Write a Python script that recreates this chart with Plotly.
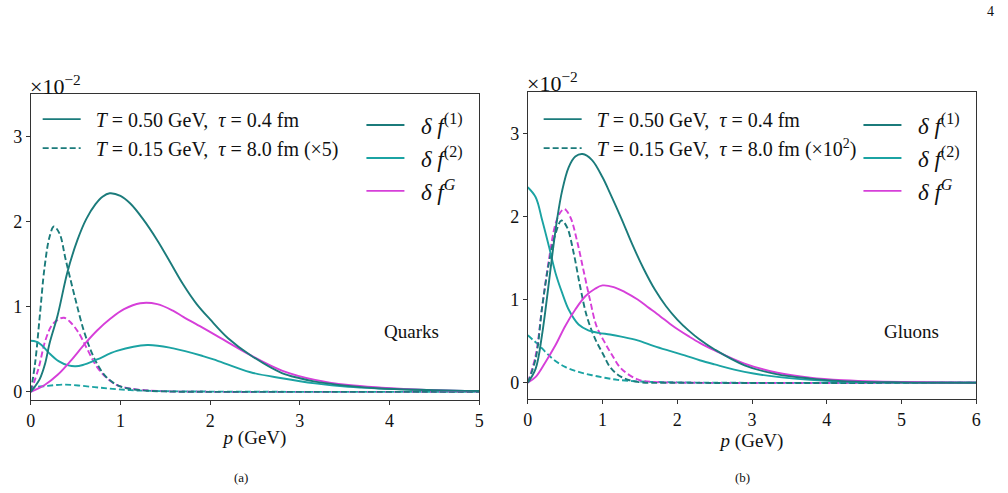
import plotly.graph_objects as go

# ---------------- data (values in units of 10^-2) ----------------
# Quarks, T = 0.50 GeV, tau = 0.4 fm
q_f1_hot_p = [0, 0.1, 0.16, 0.21, 0.30, 0.41, 0.52, 0.62, 0.72, 0.80, 0.88, 1.0, 1.11, 1.25, 1.41, 1.55, 1.70, 1.85, 2.0, 2.2, 2.45, 2.8, 3.0, 3.17, 3.54, 3.91, 4.5, 5.0]
q_f1_hot_y = [0, 0.15, 0.33, 0.57, 0.90, 1.41, 1.78, 2.03, 2.20, 2.29, 2.33, 2.30, 2.21, 2.03, 1.78, 1.53, 1.26, 1.03, 0.85, 0.63, 0.43, 0.22, 0.16, 0.12, 0.07, 0.04, 0.02, 0.01]
q_f2_hot_p = [0, 0.06, 0.12, 0.20, 0.31, 0.42, 0.50, 0.58, 0.74, 0.96, 1.30, 1.59, 1.92, 2.07, 2.45, 2.80, 3.17, 3.54, 3.91, 4.5, 5.0]
q_f2_hot_y = [0.60, 0.59, 0.55, 0.46, 0.36, 0.31, 0.30, 0.315, 0.38, 0.48, 0.55, 0.51, 0.42, 0.37, 0.23, 0.16, 0.10, 0.06, 0.04, 0.02, 0.01]
q_fG_hot_p = [0, 0.155, 0.30, 0.45, 0.60, 0.74, 0.89, 1.04, 1.22, 1.41, 1.59, 1.70, 1.92, 2.07, 2.45, 2.80, 3.17, 3.54, 3.91, 4.47, 5.0]
q_fG_hot_y = [0, 0.08, 0.20, 0.37, 0.56, 0.72, 0.86, 0.97, 1.04, 1.03, 0.95, 0.88, 0.75, 0.66, 0.43, 0.25, 0.14, 0.08, 0.05, 0.02, 0.01]
# Quarks, T = 0.15 GeV, tau = 8.0 fm (x5)
q_f1_cold_p = [0, 0.05, 0.10, 0.155, 0.21, 0.258, 0.32, 0.39, 0.49, 0.60, 0.71, 0.82, 0.93, 1.04, 1.22, 1.5, 2.0, 3.0, 5.0]
q_f1_cold_y = [0, 0.35, 0.88, 1.47, 1.82, 1.94, 1.86, 1.55, 1.12, 0.69, 0.39, 0.20, 0.10, 0.05, 0.02, 0.005, 0, 0, 0]
q_f2_cold_p = [0, 0.03, 0.19, 0.36, 0.53, 0.71, 0.86, 1.11, 1.5, 2.0, 2.5, 3.0, 5.0]
q_f2_cold_y = [0.01, 0.045, 0.07, 0.085, 0.075, 0.055, 0.04, 0.02, 0.008, 0.003, 0.001, 0, 0]
q_fG_cold_p = [0, 0.088, 0.162, 0.235, 0.31, 0.37, 0.44, 0.53, 0.63, 0.74, 0.85, 0.96, 1.11, 1.41, 2.0, 3.0, 5.0]
q_fG_cold_y = [0, 0.28, 0.60, 0.78, 0.85, 0.87, 0.82, 0.70, 0.50, 0.29, 0.16, 0.08, 0.04, 0.01, 0, 0, 0]

# Gluons, T = 0.50 GeV, tau = 0.4 fm
g_f1_hot_p = [0, 0.106, 0.19, 0.26, 0.33, 0.39, 0.46, 0.547, 0.636, 0.733, 0.857, 1.0, 1.1, 1.25, 1.4, 1.55, 1.7, 1.85, 2.0, 2.15, 2.30, 2.50, 2.90, 3.34, 3.78, 4.22, 5.0, 6.0]
g_f1_hot_y = [0, 0.17, 0.57, 1.04, 1.55, 1.95, 2.31, 2.59, 2.72, 2.75, 2.68, 2.47, 2.28, 1.98, 1.66, 1.37, 1.12, 0.92, 0.76, 0.63, 0.52, 0.40, 0.21, 0.10, 0.05, 0.02, 0.005, 0]
g_f2_hot_p = [0, 0.106, 0.194, 0.283, 0.371, 0.46, 0.547, 0.68, 0.81, 0.945, 1.1, 1.25, 1.47, 1.69, 1.91, 2.10, 2.30, 2.50, 2.90, 3.34, 3.78, 4.22, 5.0, 6.0]
g_f2_hot_y = [2.35, 2.23, 1.95, 1.64, 1.32, 1.08, 0.88, 0.70, 0.63, 0.60, 0.58, 0.555, 0.51, 0.44, 0.38, 0.33, 0.27, 0.22, 0.13, 0.07, 0.035, 0.015, 0.005, 0]
g_fG_hot_p = [0, 0.106, 0.238, 0.37, 0.50, 0.636, 0.77, 0.90, 1.0, 1.15, 1.3, 1.47, 1.62, 1.77, 1.9, 2.01, 2.15, 2.30, 2.50, 2.90, 3.34, 3.78, 4.22, 4.66, 6.0]
g_fG_hot_y = [0, 0.07, 0.25, 0.45, 0.68, 0.88, 1.04, 1.13, 1.17, 1.15, 1.09, 1.0, 0.90, 0.80, 0.71, 0.64, 0.56, 0.48, 0.39, 0.23, 0.12, 0.06, 0.03, 0.015, 0]
# Gluons, T = 0.15 GeV, tau = 8.0 fm (x10^2)
g_f1_cold_p = [0, 0.106, 0.194, 0.283, 0.371, 0.45, 0.525, 0.614, 0.70, 0.79, 0.90, 1.01, 1.10, 1.25, 1.47, 2.0, 6.0]
g_f1_cold_y = [0, 0.29, 0.92, 1.44, 1.79, 1.95, 1.87, 1.56, 1.16, 0.80, 0.53, 0.34, 0.19, 0.07, 0.01, 0, 0]
g_f2_cold_p = [0, 0.15, 0.33, 0.50, 0.68, 0.86, 1.03, 1.2, 1.5, 2.0, 2.5, 6.0]
g_f2_cold_y = [0.57, 0.45, 0.29, 0.19, 0.13, 0.09, 0.06, 0.035, 0.015, 0.005, 0, 0]
g_fG_cold_p = [0, 0.106, 0.194, 0.283, 0.371, 0.437, 0.49, 0.57, 0.658, 0.746, 0.834, 0.92, 1.02, 1.13, 1.25, 1.47, 1.69, 2.2, 6.0]
g_fG_cold_y = [0, 0.33, 0.92, 1.48, 1.91, 2.05, 2.09, 1.99, 1.71, 1.35, 0.99, 0.68, 0.50, 0.33, 0.17, 0.04, 0.01, 0, 0]

x_ticks_q = [0, 1, 2, 3, 4, 5]
x_ticks_g = [0, 1, 2, 3, 4, 5, 6]
y_ticks = [0, 1, 2, 3]

NB = "\u00a0"
legend_T = [NB * 2 + "<i>T</i>" + NB + "=" + NB + "0.50" + NB + "GeV," + NB * 2 + "<i>τ</i>" + NB + "=" + NB + "0.4" + NB + "fm",
            NB * 2 + "<i>T</i>" + NB + "=" + NB + "0.15" + NB + "GeV," + NB * 2 + "<i>τ</i>" + NB + "=" + NB + "8.0" + NB + "fm" + NB + "(×5)",
            NB * 2 + "<i>T</i>" + NB + "=" + NB + "0.15" + NB + "GeV," + NB * 2 + "<i>τ</i>" + NB + "=" + NB + "8.0" + NB + "fm" + NB + "(×10<sup>2</sup>)"]
legend_df = [NB * 2 + "<i>δ" + NB + "f</i><sup>(1)</sup>", NB * 2 + "<i>δ" + NB + "f</i><sup>(2)</sup>",
             NB * 2 + "<i>δ" + NB + "f</i><sup><i>G</i></sup>"]

# ---------------- style ----------------
C1 = "#1b7b7b"
C2 = "#1ba3a3"
CG = "#d63fd9"
FONT = "Liberation Serif, Times New Roman, Times, serif"
TXT = "#111111"
W = 1008
H = 493
DASH = "6px,3px"
LW = 1.9

fig = go.Figure()

def curve(p, y, color, dash, xa, ya):
    fig.add_trace(go.Scatter(x=p, y=y, mode="lines", xaxis=xa, yaxis=ya,
                             line=dict(color=color, width=LW, dash=dash, shape="spline", smoothing=1.0),
                             showlegend=False, hoverinfo="skip"))

# quarks
curve(q_f2_cold_p, q_f2_cold_y, C2, DASH, "x", "y")
curve(q_fG_cold_p, q_fG_cold_y, CG, DASH, "x", "y")
curve(q_f1_cold_p, q_f1_cold_y, C1, DASH, "x", "y")
curve(q_f2_hot_p, q_f2_hot_y, C2, "solid", "x", "y")
curve(q_fG_hot_p, q_fG_hot_y, CG, "solid", "x", "y")
curve(q_f1_hot_p, q_f1_hot_y, C1, "solid", "x", "y")
# gluons
curve(g_f2_cold_p, g_f2_cold_y, C2, DASH, "x2", "y2")
curve(g_fG_cold_p, g_fG_cold_y, CG, DASH, "x2", "y2")
curve(g_f1_cold_p, g_f1_cold_y, C1, DASH, "x2", "y2")
curve(g_f2_hot_p, g_f2_hot_y, C2, "solid", "x2", "y2")
curve(g_fG_hot_p, g_fG_hot_y, CG, "solid", "x2", "y2")
curve(g_f1_hot_p, g_f1_hot_y, C1, "solid", "x2", "y2")

def leg_entry(name, color, dash, legend, group):
    fig.add_trace(go.Scatter(x=[None], y=[None], mode="lines", name=name, legend=legend,
                             legendgroup=group, line=dict(color=color, width=LW, dash=dash),
                             xaxis="x", yaxis="y", hoverinfo="skip"))

leg_entry(legend_T[0], C1, "solid", "legend", "a1")
leg_entry(legend_T[1], C1, DASH, "legend", "a2")
for i, (nm, c) in enumerate(zip(legend_df, [C1, C2, CG])):
    leg_entry(nm, c, "solid", "legend2", "b%d" % i)
leg_entry(legend_T[0], C1, "solid", "legend3", "c1")
leg_entry(legend_T[2], C1, DASH, "legend3", "c2")
for i, (nm, c) in enumerate(zip(legend_df, [C1, C2, CG])):
    leg_entry(nm, c, "solid", "legend4", "d%d" % i)

def px(x):
    return x / W

def py(y):
    return 1 - y / H

axis_common = dict(showline=True, linecolor="#333333", linewidth=1, mirror=True,
                   ticks="outside", ticklen=4, tickwidth=1, tickcolor="#333333",
                   showgrid=False, zeroline=False,
                   tickfont=dict(family=FONT, size=18, color=TXT))

def leg(x, y, size, gap):
    return dict(x=px(x), y=py(y), bgcolor="rgba(0,0,0,0)", borderwidth=0,
                xanchor="left", yanchor="top", traceorder="grouped", tracegroupgap=gap,
                itemwidth=38, font=dict(family=FONT, size=size, color=TXT))

xtitle = dict(text="<i>p</i>" + NB + "(GeV)", font=dict(family=FONT, size=19, color=TXT), standoff=0)

fig.update_layout(
    width=W, height=H, margin=dict(l=0, r=0, t=0, b=0),
    paper_bgcolor="white", plot_bgcolor="white",
    xaxis=dict(domain=[px(26), px(479)], range=[0, 5], tickvals=x_ticks_q, anchor="y",
               title=xtitle, **axis_common),
    yaxis=dict(domain=[py(402), py(94)], range=[-0.1, 3.5], tickvals=y_ticks, anchor="x", **axis_common),
    xaxis2=dict(domain=[px(528), px(981)], range=[0, 6], tickvals=x_ticks_g, anchor="y2",
                title=xtitle, **axis_common),
    yaxis2=dict(domain=[py(401), py(92)], range=[-0.2, 3.5], tickvals=y_ticks, anchor="x2", **axis_common),
    legend=leg(33, 100, 20, 0),
    legend2=leg(360, 104, 23, 0),
    legend3=leg(539, 100, 20, 0),
    legend4=leg(862, 104, 23, 0),
)

def note(text, x, y, size, xref="paper", yref="paper"):
    fig.add_annotation(text=text, x=x, y=y, xref=xref, yref=yref, xanchor="center", yanchor="middle",
                       showarrow=False, font=dict(family=FONT, size=size, color=TXT))

fig.add_annotation(text="×10<sup>−2</sup>", x=px(23), y=py(85), xref="paper", yref="paper",
                   xanchor="left", yanchor="middle", showarrow=False, font=dict(family=FONT, size=22, color=TXT))
fig.add_annotation(text="×10<sup>−2</sup>", x=px(525), y=py(82), xref="paper", yref="paper",
                   xanchor="left", yanchor="middle", showarrow=False, font=dict(family=FONT, size=22, color=TXT))
note("Quarks", 4.24, 0.71, 19, "x", "y")
note("Gluons", 5.13, 0.62, 19, "x2", "y2")
note("(a)", px(238), py(479), 13)
note("(b)", px(745), py(479), 13)
note("4", px(995), py(12), 14)

fig.write_html("out.html")
